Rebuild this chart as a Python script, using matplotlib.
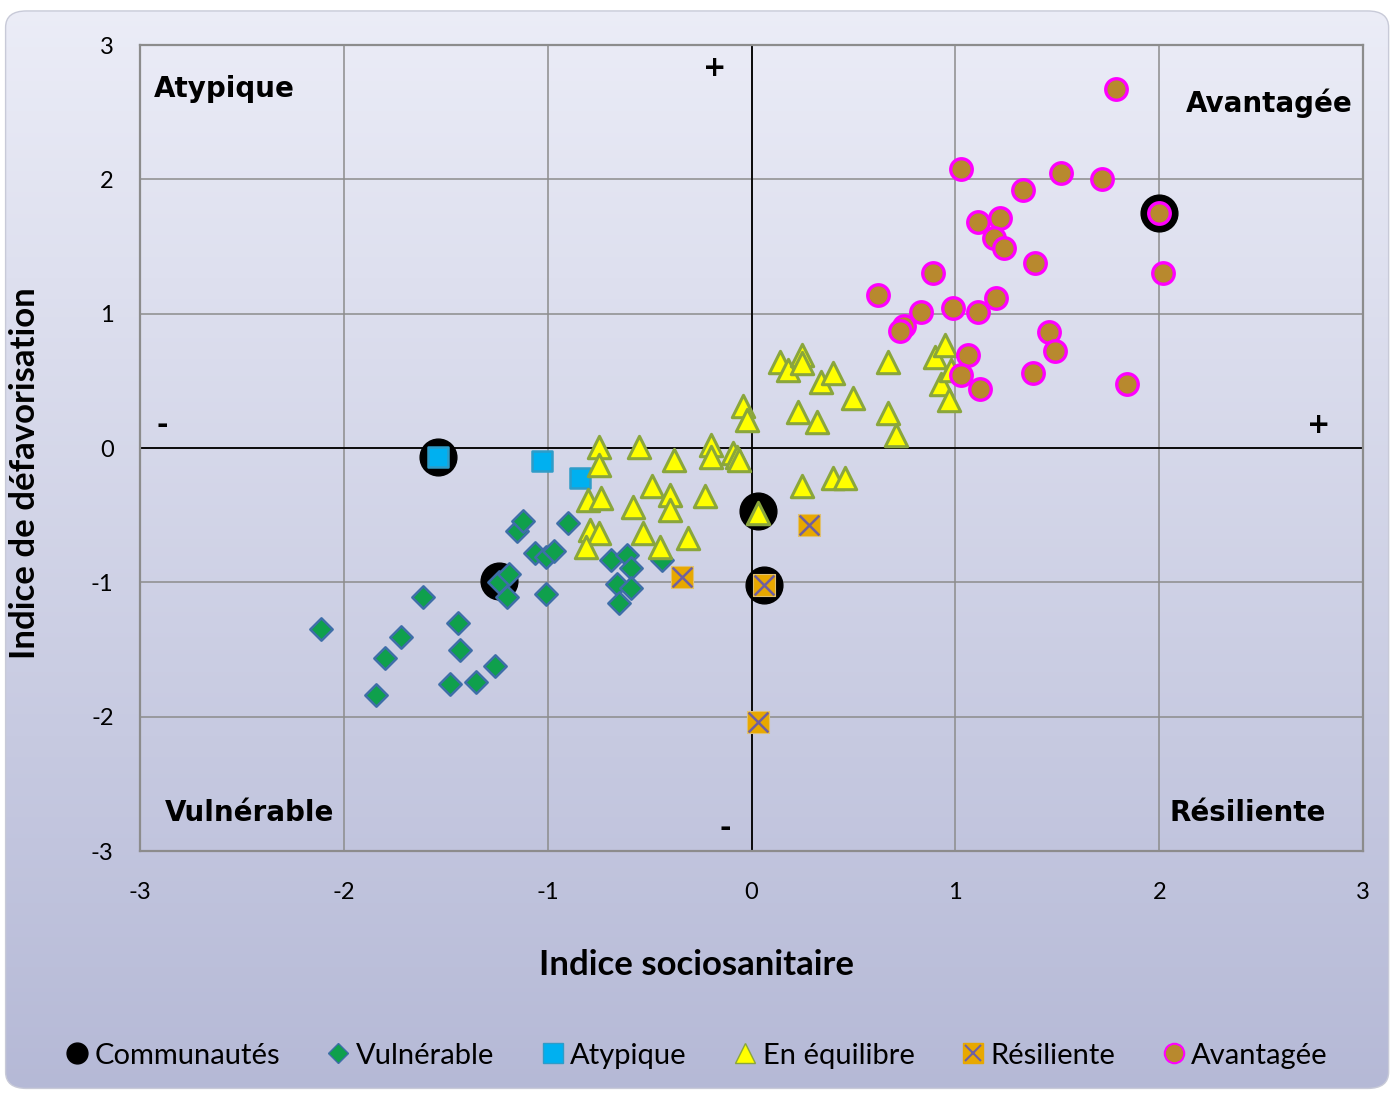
import numpy as np
import matplotlib
matplotlib.use("Agg")
import matplotlib.pyplot as plt
from matplotlib.lines import Line2D
from matplotlib.patches import FancyBboxPatch

plt.rcParams['font.family'] = ['Lato', 'DejaVu Sans']
plt.rcParams['axes.unicode_minus'] = False

# data
communautes_x = [-1.54, -1.24, 0.03, 0.06, 2.00]
communautes_y = [-0.07, -0.99, -0.47, -1.02, 1.75]

vulnerable_x = [-2.11, -1.84, -1.80, -1.72, -1.61, -1.44, -1.43, -1.48, -1.35, -1.26,
                -1.24, -1.19, -1.20, -1.15, -1.12, -1.06, -1.01, -0.97, -1.01, -0.90,
                -0.69, -0.61, -0.59, -0.66, -0.59, -0.65, -0.44]
vulnerable_y = [-1.35, -1.84, -1.56, -1.41, -1.11, -1.30, -1.50, -1.76, -1.74, -1.62,
                -1.00, -0.94, -1.11, -0.62, -0.54, -0.78, -0.81, -0.77, -1.09, -0.56,
                -0.83, -0.80, -0.89, -1.01, -1.04, -1.15, -0.83]

atypique_x = [-1.54, -1.03, -0.84]
atypique_y = [-0.07, -0.10, -0.22]

equilibre_x = [-0.75, -0.75, -0.55, -0.38, -0.20, -0.20, -0.09, -0.07, -0.06, -0.04,
               -0.02, 0.14, 0.18, 0.25, 0.25, 0.34, 0.40, 0.50, 0.23, 0.32,
               0.67, 0.67, 0.71, 0.90, 0.95, 0.93, 0.97, 0.98, -0.80, -0.74,
               -0.49, -0.40, -0.40, -0.58, -0.23, -0.79, -0.75, -0.81, -0.53, -0.45,
               -0.31, 0.25, 0.40, 0.46, 0.03]
equilibre_y = [0.01, -0.13, 0.01, -0.09, 0.02, -0.07, -0.04, -0.07, -0.09, 0.31,
               0.21, 0.64, 0.58, 0.69, 0.63, 0.49, 0.56, 0.37, 0.27, 0.19,
               0.64, 0.26, 0.10, 0.68, 0.77, 0.48, 0.36, 0.58, -0.39, -0.37,
               -0.28, -0.35, -0.46, -0.44, -0.36, -0.61, -0.63, -0.74, -0.63, -0.74,
               -0.67, -0.28, -0.22, -0.22, -0.48]

resiliente_x = [-0.34, 0.28, 0.06, 0.03]
resiliente_y = [-0.96, -0.57, -1.02, -2.04]

avantagee_x = [1.79, 1.03, 1.33, 1.52, 1.72, 2.00, 1.11, 1.22, 1.19, 1.24,
               1.39, 0.89, 2.02, 0.62, 1.20, 0.83, 0.99, 1.11, 0.75, 0.73,
               1.46, 1.49, 1.06, 1.03, 1.12, 1.38, 1.84]
avantagee_y = [2.67, 2.08, 1.92, 2.05, 2.00, 1.75, 1.68, 1.71, 1.56, 1.49,
               1.38, 1.30, 1.30, 1.14, 1.12, 1.01, 1.04, 1.01, 0.91, 0.87,
               0.86, 0.72, 0.69, 0.54, 0.44, 0.56, 0.48]

ticks = [-3, -2, -1, 0, 1, 2, 3]

fig = plt.figure(figsize=(13.97, 10.95), dpi=100, facecolor='white')

# background gradient panel with rounded corners
bg = fig.add_axes([0, 0, 1, 1], zorder=-10)
bg.set_xlim(0, 1)
bg.set_ylim(0, 1)
bg.axis('off')
grad = np.linspace(0, 1, 256).reshape(-1, 1)
top = np.array([0.925, 0.930, 0.970])
bottom = np.array([0.710, 0.725, 0.840])
img = top + (bottom - top) * grad[:, :, None]
im = bg.imshow(img, extent=[0, 1, 0, 1], aspect='auto', origin='upper')
panel = FancyBboxPatch((0.004, 0.006), 0.99, 0.984,
                       boxstyle="round,pad=0,rounding_size=0.015",
                       transform=bg.transAxes, facecolor='none', edgecolor='#c8cad8', lw=1)
bg.add_patch(panel)
im.set_clip_path(panel)

ax = fig.add_axes([0.1002, 0.2228, 0.8755, 0.7361])
ax.set_facecolor('none')
ax.set_xlim(-3, 3)
ax.set_ylim(-3, 3)
ax.set_xticks(ticks)
ax.set_yticks(ticks)
ax.grid(True, color='#8c8c8c', lw=1.1)
ax.set_axisbelow(True)
ax.axhline(0, color='black', lw=1.3, zorder=1)
ax.axvline(0, color='black', lw=1.3, zorder=1)
for s in ax.spines.values():
    s.set_color('#8c8c8c')
    s.set_linewidth(1.6)
ax.tick_params(length=0, labelsize=17, pad=19)
ax.tick_params(axis='x', pad=22)

ax.scatter(communautes_x, communautes_y, s=700, c='black', zorder=2)
ax.scatter(vulnerable_x, vulnerable_y, marker='D', s=130, c='#0fa04c',
           edgecolors='#3e6ea8', linewidths=1.8, zorder=3)
ax.scatter(atypique_x, atypique_y, marker='s', s=210, c='#00b0f0',
           edgecolors='#2e9cc8', linewidths=1.8, zorder=3)
ax.scatter(equilibre_x, equilibre_y, marker='^', s=260, c='#ffff00',
           edgecolors='#8aa63c', linewidths=2.2, zorder=3)
ax.scatter(resiliente_x, resiliente_y, marker='s', s=250, c='#e8a800',
           edgecolors='#e0c070', linewidths=0.8, zorder=3)
ax.scatter(resiliente_x, resiliente_y, marker='x', s=200, c='#7060a0',
           linewidths=1.8, zorder=4)
ax.scatter(avantagee_x, avantagee_y, marker='o', s=240, c='#b8892e',
           edgecolors='#ff00ff', linewidths=2.4, zorder=3)

qfont = dict(fontsize=20, fontweight='bold', family='DejaVu Sans', color='black')
ax.text(-2.93, 2.67, 'Atypique', ha='left', va='center', **qfont)
ax.text(2.95, 2.57, 'Avantagée', ha='right', va='center', **qfont)
ax.text(-2.88, -2.72, 'Vulnérable', ha='left', va='center', **qfont)
ax.text(2.82, -2.72, 'Résiliente', ha='right', va='center', **qfont)
ax.text(-0.18, 2.83, '+', ha='center', va='center', **qfont)
ax.text(-2.89, 0.17, '-', ha='center', va='center', **qfont)
ax.text(2.78, 0.17, '+', ha='center', va='center', **qfont)
ax.text(-0.13, -2.83, '-', ha='center', va='center', **qfont)

ax.set_xlabel('Indice sociosanitaire', fontsize=25, fontweight='bold')
ax.set_ylabel('Indice de défavorisation', fontsize=25, fontweight='bold')
ax.xaxis.set_label_coords(0.4554, -0.121)
ax.yaxis.set_label_coords(-0.081, 0.469)

handles = [
    Line2D([], [], ls='', marker='o', ms=15, mfc='black', mec='black'),
    Line2D([], [], ls='', marker='D', ms=10, mfc='#0fa04c', mec='#3e6ea8'),
    Line2D([], [], ls='', marker='s', ms=14, mfc='#00b0f0', mec='#2e9cc8'),
    Line2D([], [], ls='', marker='^', ms=15, mfc='#ffff00', mec='#8aa63c'),
    (Line2D([], [], ls='', marker='s', ms=14, mfc='#e8a800', mec='#e8a800'),
     Line2D([], [], ls='', marker='x', ms=12, mec='#7060a0', mew=1.5)),
    Line2D([], [], ls='', marker='o', ms=14, mfc='#b8892e', mec='#ff00ff', mew=1.5),
]
labels = ['Communautés', 'Vulnérable', 'Atypique', 'En équilibre', 'Résiliente', 'Avantagée']
fig.legend(handles, labels, loc='center', bbox_to_anchor=(0.497, 0.036), ncol=6,
           frameon=False, fontsize=21, handletextpad=0.05, columnspacing=1.45,
           handlelength=1.1)

fig.savefig('out.png', dpi=100, facecolor='white')
